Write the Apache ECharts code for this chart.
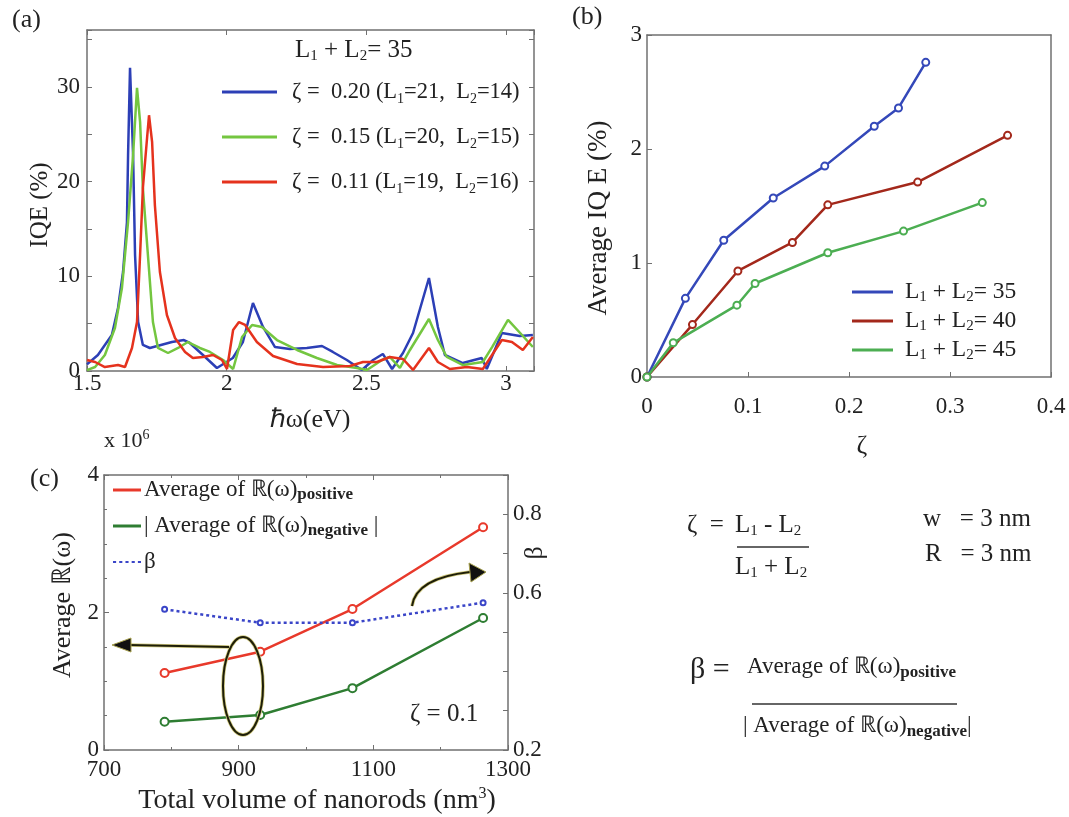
<!DOCTYPE html>
<html><head><meta charset="utf-8">
<script src="https://cdn.jsdelivr.net/npm/echarts@6/dist/echarts.min.js"></script>
<style>html,body{margin:0;padding:0;background:#fff}#c{width:1069px;height:817px}</style>
</head><body><div id="c"></div>
<script>
const FONT = '"Liberation Serif","Times New Roman",serif';
const TXT = '#222';
const AX = '#707070';

// ---------- (a) IQE spectra, L1+L2 = 35 ----------
const aBlue = [[1.5,0.7],[1.539,1.69],[1.589,3.8],[1.611,6.65],[1.629,10.45],[1.643,15.7],[1.647,22.8],[1.654,32.0],[1.665,22.8],[1.672,12.25],[1.683,5.17],[1.700,2.75],[1.725,2.43],[1.804,3.06],[1.847,3.27],[1.868,2.96],[1.915,1.69],[1.965,0.32],[2.022,1.37],[2.058,3.06],[2.094,7.18],[2.130,4.65],[2.173,2.53],[2.226,2.32],[2.287,2.43],[2.341,2.64],[2.380,2.01],[2.430,1.16],[2.484,0.11],[2.524,1.16],[2.559,1.8],[2.592,0.21],[2.631,1.9],[2.667,4.01],[2.724,9.82],[2.756,4.65],[2.781,1.69],[2.845,0.84],[2.913,1.37],[2.931,0.21],[2.985,4.01],[3.049,3.7],[3.096,3.8]];
const aGreen = [[1.5,0.1],[1.529,0.42],[1.564,1.69],[1.600,4.54],[1.625,8.76],[1.647,15.73],[1.665,22.8],[1.679,29.9],[1.690,26.3],[1.700,19.3],[1.718,12.25],[1.736,5.17],[1.754,2.43],[1.790,1.9],[1.826,2.43],[1.861,3.06],[1.904,2.43],[1.940,2.01],[1.987,1.16],[2.023,0.21],[2.055,3.59],[2.091,4.86],[2.126,4.65],[2.180,3.27],[2.252,2.22],[2.323,1.37],[2.395,0.63],[2.466,0.32],[2.502,0.11],[2.556,1.16],[2.584,1.48],[2.620,0.32],[2.656,2.22],[2.724,5.49],[2.756,3.27],[2.788,1.48],[2.846,0.63],[2.917,0.95],[2.950,2.53],[3.007,5.39],[3.057,3.8],[3.096,2.53]];
const aRed = [[1.5,1.16],[1.529,0.95],[1.564,0.42],[1.611,0.63],[1.636,0.42],[1.661,2.43],[1.679,5.17],[1.690,12.25],[1.700,19.3],[1.715,24.6],[1.722,27.0],[1.733,24.2],[1.743,17.5],[1.761,10.45],[1.786,5.91],[1.815,3.48],[1.851,2.01],[1.879,1.37],[1.915,1.48],[1.951,1.69],[1.983,1.16],[2.001,0.21],[2.023,4.33],[2.044,5.17],[2.066,4.86],[2.108,3.06],[2.166,1.58],[2.252,0.74],[2.345,0.42],[2.441,0.53],[2.488,0.95],[2.538,0.95],[2.584,1.48],[2.631,1.27],[2.667,0.11],[2.724,2.43],[2.756,0.95],[2.799,0.21],[2.860,0.42],[2.917,0.21],[2.985,3.27],[3.021,3.06],[3.060,2.22],[3.096,3.59]];
const aNames = ['zeta020', 'zeta015', 'zeta011'];
const aLegendText = ['ζ =  0.20 (L{s|1}=21,  L{s|2}=14)', 'ζ =  0.15 (L{s|1}=20,  L{s|2}=15)', 'ζ =  0.11 (L{s|1}=19,  L{s|2}=16)'];
const aXTicks = [1.5, 2, 2.5, 3];
const aYTicks = [0, 10, 20, 30];

// ---------- (b) average IQE vs zeta ----------
const b35 = [[0,0],[0.038,0.69],[0.076,1.20],[0.125,1.57],[0.176,1.85],[0.225,2.20],[0.249,2.36],[0.276,2.76]];
const b40 = [[0,0],[0.045,0.46],[0.090,0.93],[0.144,1.18],[0.179,1.51],[0.268,1.71],[0.357,2.12]];
const b45 = [[0,0],[0.026,0.30],[0.089,0.63],[0.107,0.82],[0.179,1.09],[0.254,1.28],[0.332,1.53]];
const bNames = ['sum35', 'sum40', 'sum45'];
const bLegendText = ['L{s|1} + L{s|2}= 35', 'L{s|1} + L{s|2}= 40', 'L{s|1} + L{s|2}= 45'];

// ---------- (c) vs total volume ----------
const cVolume = [790, 932, 1069, 1263];
const cPositive = [1.12, 1.43, 2.05, 3.24];
const cNegative = [0.41, 0.51, 0.90, 1.92];
const cBeta = [0.558, 0.524, 0.524, 0.575];
const cRightTicks = [0.2, 0.6, 0.8];

const near = (arr, v) => arr.some(t => Math.abs(t - v) < 1e-6);
const subStyle = (size, extra) => Object.assign({fontFamily: FONT, fontSize: size, lineHeight: size, verticalAlign: 'bottom', color: TXT}, extra || {});

function xAx(grid, pos, min, max, interval, opts) {
  opts = opts || {};
  return {
    type: 'value', gridIndex: grid, position: pos, min, max, interval,
    axisLine: {show: true, onZero: false, lineStyle: {color: AX, width: 1.5}},
    axisTick: {show: opts.ticks !== false, inside: true, length: 5, lineStyle: {color: AX}},
    minorTick: {show: !!opts.minor, splitNumber: opts.minor || 2, length: 3, lineStyle: {color: AX}},
    splitLine: {show: false},
    axisLabel: {show: !!opts.labels, margin: opts.margin || 4, fontFamily: FONT, fontSize: 23, color: TXT,
      formatter: opts.formatter || (v => String(v))}
  };
}
const yAx = xAx;

const mkLine = (name, data, color, xi, yi, extra) => Object.assign({
  type: 'line', name, data, xAxisIndex: xi, yAxisIndex: yi, showSymbol: false, symbol: 'none',
  lineStyle: {color, width: 2.5}, itemStyle: {color}, emphasis: {disabled: true}
}, extra || {});

const option = {
  animation: false,
  backgroundColor: '#fff',
  grid: [
    {left: 87, top: 30, width: 447, height: 341, outerBoundsMode: 'none'},
    {left: 647, top: 35, width: 404, height: 342, outerBoundsMode: 'none'},
    {left: 104, top: 475, width: 404, height: 275, outerBoundsMode: 'none'}
  ],
  xAxis: [
    xAx(0, 'bottom', 1.5, 3.1, 0.5, {labels: true, margin: 1, formatter: v => near(aXTicks, v) ? String(v) : ''}),
    xAx(0, 'top', 1.5, 3.1, 0.5, {}),
    xAx(1, 'bottom', 0, 0.4, 0.1, {labels: true, margin: 18}),
    xAx(1, 'top', 0, 0.4, 0.1, {ticks: false}),
    xAx(2, 'bottom', 700, 1300, 200, {labels: true, margin: 8, minor: 2}),
    xAx(2, 'top', 700, 1300, 200, {minor: 2})
  ],
  yAxis: [
    yAx(0, 'left', 0, 36, 5, {labels: true, margin: 7, formatter: v => near(aYTicks, v) ? String(v) : ''}),
    yAx(0, 'right', 0, 36, 5, {}),
    yAx(1, 'left', 0, 3, 1, {labels: true, margin: 5}),
    yAx(1, 'right', 0, 3, 1, {ticks: false}),
    yAx(2, 'left', 0, 4, 2, {labels: true, margin: 5, minor: 4}),
    yAx(2, 'right', 0.2, 0.9, 0.1, {labels: true, margin: 5, formatter: v => near(cRightTicks, v) ? v.toFixed(1) : ''})
  ],
  legend: [
    {
      left: 222, top: 78, padding: 0, orient: 'vertical', itemWidth: 55, itemHeight: 3, itemGap: 17, icon: 'rect',
      selectedMode: false, data: aNames,
      formatter: n => aLegendText[aNames.indexOf(n)],
      textStyle: {fontFamily: FONT, fontSize: 22.5, color: TXT, lineHeight: 28, padding: [0, 0, 0, 10],
        rich: {s: subStyle(14)}}
    },
    {
      left: 852, top: 279, padding: 0, orient: 'vertical', itemWidth: 41, itemHeight: 3, itemGap: 3, icon: 'rect',
      selectedMode: false, data: bNames,
      formatter: n => bLegendText[bNames.indexOf(n)],
      textStyle: {fontFamily: FONT, fontSize: 23.5, color: TXT, lineHeight: 26, padding: [0, 0, 0, 7],
        rich: {s: subStyle(15)}}
    },
    {
      left: 113, top: 477, padding: 0, orient: 'vertical', itemWidth: 28, itemHeight: 3, itemGap: 10, icon: 'rect',
      selectedMode: false,
      data: [{name: 'pos'}, {name: 'neg'}, {name: 'beta', icon: 'path://M0,0h3v2h-3zM6,0h3v2h-3zM12,0h3v2h-3zM18,0h3v2h-3zM24,0h3v2h-3z'}],
      formatter: n => n === 'pos' ? 'Average of ℝ(ω){s|positive}' : (n === 'neg' ? '| Average of ℝ(ω){s|negative} |' : 'β'),
      textStyle: {fontFamily: FONT, fontSize: 23, color: TXT, lineHeight: 26, padding: [0, 0, 0, -2],
        rich: {s: subStyle(17, {fontWeight: 'bold'})}}
    }
  ],
  series: [
    mkLine('zeta020', aBlue, '#2c3fb6', 0, 0),
    mkLine('zeta015', aGreen, '#74c640', 0, 0),
    mkLine('zeta011', aRed, '#e5321d', 0, 0),
    mkLine('sum35', b35, '#3448b9', 2, 2, {showSymbol: true, symbol: 'emptyCircle', symbolSize: 7, itemStyle: {color: '#3448b9', borderWidth: 1.2}}),
    mkLine('sum40', b40, '#a3281b', 2, 2, {showSymbol: true, symbol: 'emptyCircle', symbolSize: 7, itemStyle: {color: '#a3281b', borderWidth: 1.2}}),
    mkLine('sum45', b45, '#4cae52', 2, 2, {showSymbol: true, symbol: 'emptyCircle', symbolSize: 7, itemStyle: {color: '#4cae52', borderWidth: 1.2}}),
    mkLine('pos', cVolume.map((v, i) => [v, cPositive[i]]), '#e8392b', 4, 4, {showSymbol: true, symbol: 'emptyCircle', symbolSize: 8, itemStyle: {color: '#e8392b', borderWidth: 1.5}}),
    mkLine('neg', cVolume.map((v, i) => [v, cNegative[i]]), '#2e7d32', 4, 4, {showSymbol: true, symbol: 'emptyCircle', symbolSize: 8, itemStyle: {color: '#2e7d32', borderWidth: 1.5}}),
    mkLine('beta', cVolume.map((v, i) => [v, cBeta[i]]), '#3a45c8', 4, 5, {showSymbol: true, symbol: 'emptyCircle', symbolSize: 5, lineStyle: {color: '#3a45c8', width: 2.5, type: [3, 3]}, itemStyle: {color: '#3a45c8', borderWidth: 1.2}})
  ]
};

const T = (text, x, y, size, extra) => ({
  type: 'text', x, y, rotation: (extra && extra.rotation) || 0, z: 10,
  style: Object.assign({text, x: 0, y: 0, fill: TXT, fontFamily: FONT, fontSize: size, align: 'left', verticalAlign: 'middle'}, (extra && extra.style) || {})
});
const L = (x1, y1, x2, y2, w, c) => ({type: 'line', z: 10, shape: {x1, y1, x2, y2}, style: {stroke: c || '#333', lineWidth: w || 1.5}});
const richSub = size => ({s: subStyle(size)});
const richSubB = size => ({s: subStyle(size, {fontWeight: 'bold'})});
const HALO = '#cfc87e', DARK = '#1e1e08';

const graphics = [
  // panel labels
  T('(a)', 12, 20, 26),
  T('(b)', 572, 17, 26),
  T('(c)', 30, 479, 26),
  // (a) texts
  T('L{s|1} + L{s|2}= 35', 295, 50, 25, {style: {lineHeight: 28, rich: richSub(15)}}),
  T('IQE (%)', 40, 205, 25, {rotation: Math.PI / 2, style: {align: 'center'}}),
  T('ℏω(eV)', 310, 420, 26, {style: {align: 'center'}}),
  // (b) texts
  T('Average IQ E (%)', 599, 218, 27, {rotation: Math.PI / 2, style: {align: 'center'}}),
  T('ζ', 862, 446, 26, {style: {align: 'center'}}),
  // (c) texts
  T('x 10{p|6}', 104, 441, 22, {style: {lineHeight: 26, rich: {p: {fontFamily: FONT, fontSize: 14, lineHeight: 14, verticalAlign: 'top', color: TXT}}}}),
  T('Average ℝ(ω)', 63, 605, 26, {rotation: Math.PI / 2, style: {align: 'center'}}),
  T('β', 535, 553, 26, {rotation: Math.PI / 2, style: {align: 'center'}}),
  T('Total volume of nanorods (nm{p|3})', 317, 801, 28, {style: {align: 'center', lineHeight: 30, rich: {p: {fontFamily: FONT, fontSize: 16, lineHeight: 16, verticalAlign: 'top', color: TXT}}}}),
  T('ζ = 0.1', 410, 714, 25),
  // formulas
  T('ζ  =', 687, 525, 25),
  T('L{s|1} - L{s|2}', 735, 525, 25, {style: {lineHeight: 28, rich: richSub(15)}}),
  L(737, 547, 809, 547, 1.5),
  T('L{s|1} + L{s|2}', 735, 567, 25, {style: {lineHeight: 28, rich: richSub(15)}}),
  T('w   = 3 nm', 923, 519, 25),
  T('R   = 3 nm', 925, 554, 25),
  T('β =', 690, 670, 30),
  T('Average of ℝ(ω){s|positive}', 747, 667, 23, {style: {lineHeight: 28, rich: richSubB(17)}}),
  L(752, 704, 957, 704, 1.5),
  T('| Average of ℝ(ω){s|negative}|', 743, 726, 23, {style: {lineHeight: 28, rich: richSubB(17)}}),
  // (c) annotations
  {type: 'line', z: 9, shape: {x1: 229, y1: 647, x2: 128, y2: 645}, style: {stroke: HALO, lineWidth: 3.5}},
  {type: 'line', z: 10, shape: {x1: 229, y1: 647, x2: 128, y2: 645}, style: {stroke: DARK, lineWidth: 2}},
  {type: 'polygon', z: 10, shape: {points: [[112, 645], [131, 638], [131, 652]]}, style: {fill: '#111', stroke: '#a8a250', lineWidth: 1}},
  {type: 'ellipse', z: 9, shape: {cx: 243, cy: 686, rx: 20, ry: 49}, style: {fill: 'none', stroke: HALO, lineWidth: 3.5}},
  {type: 'ellipse', z: 10, shape: {cx: 243, cy: 686, rx: 20, ry: 49}, style: {fill: 'none', stroke: DARK, lineWidth: 2}},
  {type: 'bezierCurve', z: 9, shape: {x1: 412, y1: 606, cpx1: 416, cpy1: 578, x2: 470, y2: 572}, style: {fill: 'none', stroke: HALO, lineWidth: 3.5}},
  {type: 'bezierCurve', z: 10, shape: {x1: 412, y1: 606, cpx1: 416, cpy1: 578, x2: 470, y2: 572}, style: {fill: 'none', stroke: DARK, lineWidth: 2}},
  {type: 'polygon', z: 10, shape: {points: [[486, 572], [469, 563], [471, 582]]}, style: {fill: '#111', stroke: '#a8a250', lineWidth: 1}}
];
option.graphic = {elements: graphics};

const chart = echarts.init(document.getElementById('c'), null, {renderer: 'canvas'});
chart.setOption(option);
</script>
</body></html>
